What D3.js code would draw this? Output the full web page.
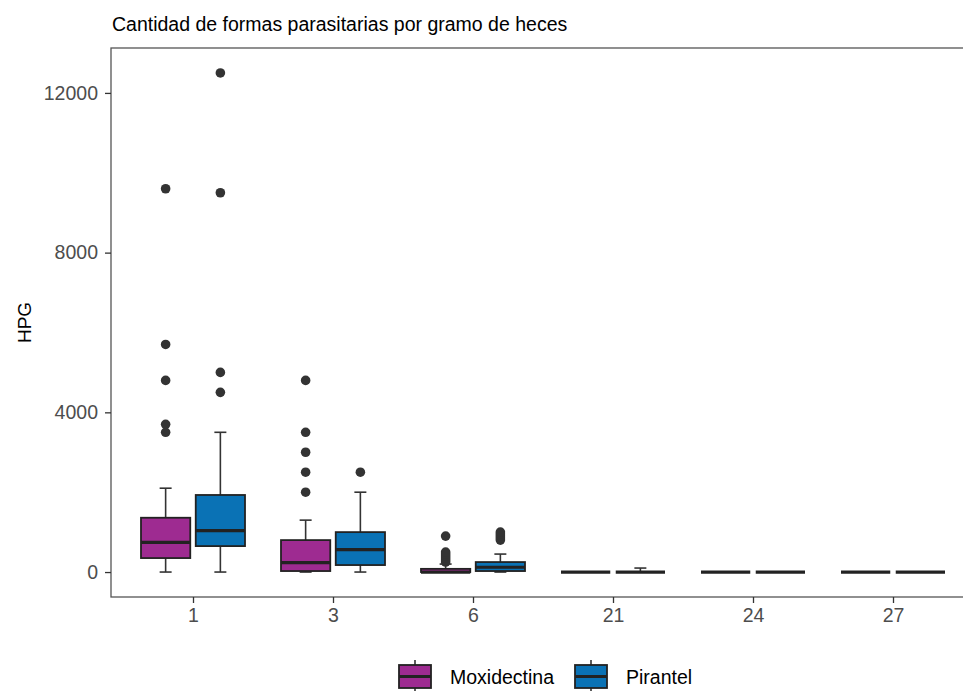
<!DOCTYPE html>
<html>
<head>
<meta charset="utf-8">
<script src="https://cdn.jsdelivr.net/npm/d3@7.9.0/dist/d3.min.js"></script>
<style>
  body { margin: 0; background: #fff; }
  svg { display: block; font-family: "Liberation Sans", Arial, sans-serif; }
</style>
</head>
<body>
<svg id="chart" width="963" height="691"></svg>
<script>
// days after treatment
const days = ['1', '3', '6', '21', '24', '27'];
const treatments = ['Moxidectina', 'Pirantel'];
const colors = ['#9e2b91', '#0a72b5'];

// box stats per day: [lower whisker, q1, median, q3, upper whisker]
const moxStats = [
  [0, 350, 745, 1360, 2100],
  [0, 25, 235, 800, 1300],
  [0, 0, 0, 80, 200],
  [0, 0, 0, 0, 0],
  [0, 0, 0, 0, 0],
  [0, 0, 0, 0, 0]
];
const pirStats = [
  [0, 650, 1035, 1930, 3500],
  [0, 175, 560, 1000, 2000],
  [0, 25, 120, 250, 450],
  [0, 0, 0, 0, 100],
  [0, 0, 0, 0, 0],
  [0, 0, 0, 0, 0]
];
// outliers per day
const moxOut = [
  [3500, 3700, 4800, 5700, 9600],
  [2000, 2500, 3000, 3500, 4800],
  [250, 300, 350, 400, 450, 500, 900],
  [], [], []
];
const pirOut = [
  [4500, 5000, 9500, 12500],
  [2500],
  [800, 850, 900, 950, 1000],
  [], [], []
];

const svg = d3.select('#chart');
const pLeft = 111, pRight = 977, pTop = 48, pBottom = 597;

const x = d3.scalePoint().domain(days).range([193, 893]);
const y = d3.scaleLinear().domain([-625, 13125]).range([pBottom, pTop]);
const dodge = d3.scaleBand().domain(treatments).range([-52, 52]).paddingInner(0.1);
const boxW = dodge.bandwidth();

// title
svg.append('text')
  .attr('x', pLeft + 1).attr('y', 31)
  .attr('font-size', 19.5).attr('fill', '#000')
  .text('Cantidad de formas parasitarias por gramo de heces');

const series = [
  { name: treatments[0], stats: moxStats, out: moxOut, color: colors[0] },
  { name: treatments[1], stats: pirStats, out: pirOut, color: colors[1] }
];

const plot = svg.append('g');

series.forEach(s => {
  days.forEach((d, i) => {
    const [lo, q1, med, q3, hi] = s.stats[i];
    const cx = x(d) + dodge(s.name) + boxW / 2;
    const g = plot.append('g');
    // whiskers
    g.append('line').attr('x1', cx).attr('x2', cx).attr('y1', y(q3)).attr('y2', y(hi))
      .attr('stroke', '#333').attr('stroke-width', 1.6);
    g.append('line').attr('x1', cx).attr('x2', cx).attr('y1', y(q1)).attr('y2', y(lo))
      .attr('stroke', '#333').attr('stroke-width', 1.6);
    g.append('line').attr('x1', cx - 6).attr('x2', cx + 6).attr('y1', y(hi)).attr('y2', y(hi))
      .attr('stroke', '#333').attr('stroke-width', 1.6);
    g.append('line').attr('x1', cx - 6).attr('x2', cx + 6).attr('y1', y(lo)).attr('y2', y(lo))
      .attr('stroke', '#333').attr('stroke-width', 1.6);
    // box
    g.append('rect')
      .attr('x', cx - boxW / 2).attr('width', boxW)
      .attr('y', y(q3)).attr('height', Math.max(0, y(q1) - y(q3)))
      .attr('fill', s.color).attr('stroke', '#222').attr('stroke-width', 1.8);
    // median
    g.append('line').attr('x1', cx - boxW / 2).attr('x2', cx + boxW / 2)
      .attr('y1', y(med)).attr('y2', y(med))
      .attr('stroke', '#222').attr('stroke-width', 3.2);
    // outliers
    g.selectAll('circle').data(s.out[i]).join('circle')
      .attr('cx', cx).attr('cy', v => y(v)).attr('r', 4.8)
      .attr('fill', '#333');
  });
});

// panel border
svg.append('rect')
  .attr('x', pLeft).attr('y', pTop).attr('width', pRight - pLeft).attr('height', pBottom - pTop)
  .attr('fill', 'none').attr('stroke', '#555').attr('stroke-width', 1.3);

// y axis
const yAxis = svg.append('g').attr('transform', `translate(${pLeft},0)`)
  .call(d3.axisLeft(y).tickValues([0, 4000, 8000, 12000]).tickSize(6).tickPadding(7).tickFormat(d3.format('d')));
yAxis.select('.domain').remove();
yAxis.selectAll('line').attr('stroke', '#333').attr('stroke-width', 1.3);
yAxis.selectAll('text').attr('font-size', 19.5).attr('fill', '#4d4d4d').attr('font-family', null);

// x axis
const xAxis = svg.append('g').attr('transform', `translate(0,${pBottom})`)
  .call(d3.axisBottom(x).tickSize(6).tickPadding(5));
xAxis.select('.domain').remove();
xAxis.selectAll('line').attr('stroke', '#333').attr('stroke-width', 1.3);
xAxis.selectAll('text').attr('font-size', 19.5).attr('fill', '#4d4d4d').attr('font-family', null);

// y label
svg.append('text')
  .attr('transform', `translate(31,${(pTop + pBottom) / 2}) rotate(-90)`)
  .attr('text-anchor', 'middle').attr('font-size', 19).attr('fill', '#000')
  .text('HPG');

// legend
const legendPos = [399, 575];
const legend = svg.append('g');
series.forEach((s, i) => {
  const lx = legendPos[i], ly = 665;
  const kw = 32, kh = 23;
  const g = legend.append('g');
  g.append('line').attr('x1', lx + kw / 2).attr('x2', lx + kw / 2).attr('y1', ly - 5).attr('y2', ly + kh + 5)
    .attr('stroke', '#333').attr('stroke-width', 1.6);
  g.append('rect').attr('x', lx).attr('y', ly).attr('width', kw).attr('height', kh)
    .attr('fill', s.color).attr('stroke', '#222').attr('stroke-width', 1.8);
  g.append('line').attr('x1', lx).attr('x2', lx + kw).attr('y1', ly + kh / 2).attr('y2', ly + kh / 2)
    .attr('stroke', '#222').attr('stroke-width', 3);
  g.append('text').attr('x', lx + kw + 19).attr('y', ly + kh / 2 + 7)
    .attr('font-size', 19.5).attr('fill', '#000').text(s.name);
});
</script>
</body>
</html>
